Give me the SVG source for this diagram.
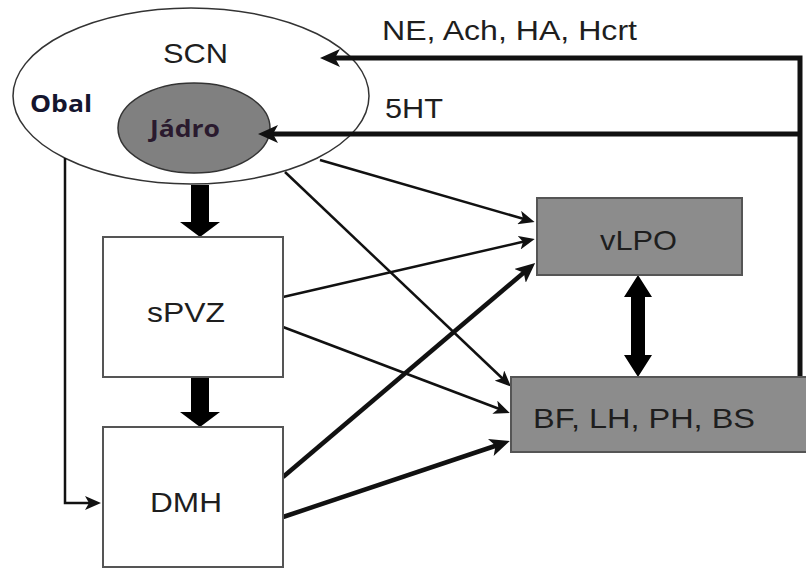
<svg xmlns="http://www.w3.org/2000/svg" width="806" height="569" viewBox="0 0 806 569">
<style>
.lbl{font-family:"Liberation Sans",Arial,sans-serif;font-size:28px;fill:#1e1e1e}
.bold{font-family:"Open Sans","Liberation Sans",sans-serif;font-weight:bold;font-size:24px}
.box{fill:#fff;stroke:#555;stroke-width:2}
.gbox{fill:#8c8c8c;stroke:#555;stroke-width:2}
.thin{fill:none;stroke:#111;stroke-width:2.5}
.thick{fill:none;stroke:#111;stroke-width:4.5}
.fb{fill:none;stroke:#111;stroke-width:5}
</style>
<defs>
<marker id="ah" markerUnits="userSpaceOnUse" markerWidth="18" markerHeight="14" refX="5" refY="7" orient="auto">
<path d="M0,0 L16,7 L0,14 L4,7 Z" fill="#111"/>
</marker>
<marker id="ahb" markerUnits="userSpaceOnUse" markerWidth="22" markerHeight="18" refX="6" refY="9" orient="auto">
<path d="M0,0 L20,9 L0,18 L5,9 Z" fill="#111"/>
</marker>
</defs>
<rect width="806" height="569" fill="#fff"/>
<g id="scn">
<ellipse cx="191" cy="96" rx="178" ry="88" fill="#fff" stroke="#333" stroke-width="1.5"/>
<text class="lbl" x="163" y="63" textLength="65" lengthAdjust="spacingAndGlyphs">SCN</text>
<text class="bold" x="30" y="112" fill="#15152e" textLength="62" lengthAdjust="spacingAndGlyphs">Obal</text>
</g>
<g id="jadro">
<ellipse cx="194" cy="128" rx="76" ry="45" fill="#808080" stroke="#333" stroke-width="1.5"/>
<text class="bold" x="150" y="137" fill="#2a1a2e" textLength="70" lengthAdjust="spacingAndGlyphs">Jádro</text>
</g>
<g id="connectors">
<path class="fb" d="M800,377 L800,58 L334,58" marker-end="url(#ahb)"/>
<path class="fb" d="M800,134 L272,134" marker-end="url(#ahb)"/>
<path class="thin" d="M65,158 L65,503 L90,503" marker-end="url(#ah)"/>
<path class="thin" d="M320,160 L524,219" marker-end="url(#ah)"/>
<path class="thin" d="M285,172 L503,379" marker-end="url(#ah)"/>
<path class="thin" d="M283,297 L524,241.5" marker-end="url(#ah)"/>
<path class="thin" d="M283,327 L499.5,409" marker-end="url(#ah)"/>
<path class="thick" d="M283,477 L524.5,272" marker-end="url(#ahb)"/>
<path class="thick" d="M283,517 L496.5,445.5" marker-end="url(#ahb)"/>
<path d="M191,185 L209,185 L209,222 L220,222 L200,237 L180,222 L191,222 Z" fill="#000"/>
<path d="M191,377 L209,377 L209,412 L220,412 L200,427 L180,412 L191,412 Z" fill="#000"/>
<path d="M638,275 L652,297 L645,297 L645,355 L652,355 L638,377 L624,355 L631,355 L631,297 L624,297 Z" fill="#000"/>
</g>
<g id="labels">
<text class="lbl" x="382" y="40" textLength="255" lengthAdjust="spacingAndGlyphs">NE, Ach, HA, Hcrt</text>
<text class="lbl" x="385" y="118" textLength="58" lengthAdjust="spacingAndGlyphs">5HT</text>
</g>
<g id="spvz">
<rect class="box" x="103" y="237" width="180" height="140"/>
<text class="lbl" x="147" y="322" textLength="78" lengthAdjust="spacingAndGlyphs">sPVZ</text>
</g>
<g id="dmh">
<rect class="box" x="103" y="427" width="180" height="140"/>
<text class="lbl" x="150" y="512" textLength="72" lengthAdjust="spacingAndGlyphs">DMH</text>
</g>
<g id="vlpo">
<rect class="gbox" x="537" y="198" width="205" height="77"/>
<text class="lbl" x="600" y="250" textLength="77" lengthAdjust="spacingAndGlyphs">vLPO</text>
</g>
<g id="bf">
<rect class="gbox" x="511" y="377" width="300" height="75"/>
<text class="lbl" x="533" y="428" textLength="222" lengthAdjust="spacingAndGlyphs">BF, LH, PH, BS</text>
</g>
</svg>
